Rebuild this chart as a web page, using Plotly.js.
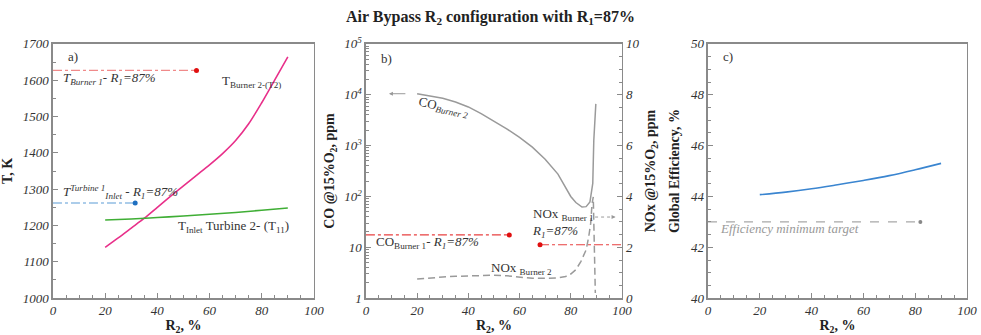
<!DOCTYPE html>
<html>
<head>
<meta charset="utf-8">
<script src="https://cdn.plot.ly/plotly-3.0.1.min.js"></script>
<style>html,body{margin:0;padding:0;background:#fff}#chart{width:981px;height:335px}</style>
</head>
<body>
<div id="chart"></div>
<script>
// ---- Panel a) temperatures ----
const r2TBurner2 = [20,25,30,35,40,45,50,55,60,65,70,75,80,85,90];
const tBurner2   = [1140,1166,1193,1220,1250,1280,1309,1338,1367,1398,1434,1480,1538,1601,1664];
const r2TInlet2  = [20,30,40,50,60,70,80,90];
const tInlet2    = [1215,1218,1222,1226,1231,1236,1242,1248];
const tBurner1Ref = 1627, tBurner1RefEnd = 55;
const tInlet1Ref  = 1262, tInlet1RefEnd = 31.5;

// ---- Panel b) emissions ----
const r2CO   = [20,25,30,35,40,45,50,55,60,65,70,75,80,82,84.4,86,87.5,88.6,89,89.4,89.8];
const coBurner2 = [10500,9500,8500,7200,5750,4270,3020,2140,1450,930,540,275,100,76,62,63,78,180,1260,3200,6600];
const r2NOx  = [20,25,30,35,40,45,50,55,60,65,70,75,78,80,82,84,86,87,87.8,88.3,88.8,89,89.2,89.4,89.6];
const noxBurner2 = [0.75,0.8,0.83,0.86,0.88,0.9,0.9,0.88,0.83,0.78,0.78,0.8,0.85,0.95,1.12,1.45,1.9,2.4,2.95,3.7,3.98,3.0,2.0,1.0,0.2];
const coBurner1Ref = 17.5, coBurner1RefEnd = 56;
const noxBurner1Ref = 2.1, noxBurner1RefStart = 68;

// ---- Panel c) efficiency ----
const r2Eff = [20,30,40,50,60,70,80,90];
const globalEff = [44.07,44.17,44.3,44.46,44.63,44.82,45.05,45.3];
const effTarget = 43.0, effTargetEnd = 82;

// ---- tick labels ----
const xTicks = [0,20,40,60,80,100];
const tTicks = [1000,1100,1200,1300,1400,1500,1600,1700];
const coTicks = [1,10,100,1000,10000,100000];
const coTickText = ['1','10','10<sup>2</sup>','10<sup>3</sup>','10<sup>4</sup>','10<sup>5</sup>'];
const noxTicks = [0,2,4,6,8,10];
const effTicks = [40,42,44,46,48,50];

const SERIF = 'Liberation Serif';
const tickFont = {family:SERIF, size:13, color:'#333'};
const titleFont = {family:SERIF, size:14, color:'#222', weight:'bold'};
const annFont = {family:SERIF, size:13, color:'#333'};
const frame = '#8a8a8a';
const it = a => a.map(v => '<i>' + v + '</i>');

function xAx(domain, anchor){
  return {domain:domain, anchor:anchor, range:[0,100], tickmode:'array', tickvals:xTicks, ticktext:it(xTicks),
    ticks:'inside', ticklen:5, tickcolor:frame, showline:true, linecolor:frame, linewidth:1.5, mirror:true,
    showgrid:false, zeroline:false, tickfont:tickFont,
    minor:{ticks:'inside', ticklen:3, dtick:5, tickcolor:frame, showgrid:false},
    title:{text:'R<sub>2</sub>, %', font:titleFont, standoff:4}};
}
const yDom = [0.11, 0.869];

const traces = [
  // panel a
  {x:r2TBurner2, y:tBurner2, xaxis:'x', yaxis:'y', mode:'lines', line:{color:'#e8308a', width:1.6, shape:'spline', smoothing:0.8}},
  {x:r2TInlet2, y:tInlet2, xaxis:'x', yaxis:'y', mode:'lines', line:{color:'#3fae35', width:1.6, shape:'spline'}},
  {x:[0,tBurner1RefEnd], y:[tBurner1Ref,tBurner1Ref], xaxis:'x', yaxis:'y', mode:'lines', line:{color:'#f08a8a', width:1.2, dash:'dashdot'}},
  {x:[tBurner1RefEnd], y:[tBurner1Ref], xaxis:'x', yaxis:'y', mode:'markers', marker:{color:'#e01010', size:5}},
  {x:[0,tInlet1RefEnd], y:[tInlet1Ref,tInlet1Ref], xaxis:'x', yaxis:'y', mode:'lines', line:{color:'#5b9bd5', width:1.2, dash:'dashdot'}},
  {x:[tInlet1RefEnd], y:[tInlet1Ref], xaxis:'x', yaxis:'y', mode:'markers', marker:{color:'#1f6fc0', size:5}},
  // panel b
  {x:r2CO, y:coBurner2, xaxis:'x2', yaxis:'y2', mode:'lines', line:{color:'#9a9a9a', width:1.5}},
  {x:[0,coBurner1RefEnd], y:[coBurner1Ref,coBurner1Ref], xaxis:'x2', yaxis:'y2', mode:'lines', line:{color:'#e84040', width:1.2, dash:'dashdot'}},
  {x:[coBurner1RefEnd], y:[coBurner1Ref], xaxis:'x2', yaxis:'y2', mode:'markers', marker:{color:'#e01010', size:5}},
  {x:r2NOx, y:noxBurner2, xaxis:'x2', yaxis:'y3', mode:'lines', line:{color:'#9a9a9a', width:1.5, dash:'7px,4px'}},
  {x:[noxBurner1RefStart,100], y:[noxBurner1Ref,noxBurner1Ref], xaxis:'x2', yaxis:'y3', mode:'lines', line:{color:'#e84040', width:1.2, dash:'dashdot'}},
  {x:[noxBurner1RefStart], y:[noxBurner1Ref], xaxis:'x2', yaxis:'y3', mode:'markers', marker:{color:'#e01010', size:5}},
  {x:[89.5,96.5], y:[3.19,3.19], xaxis:'x2', yaxis:'y3', mode:'lines', line:{color:'#9a9a9a', width:1, dash:'dot'}},
  // panel c
  {x:r2Eff, y:globalEff, xaxis:'x3', yaxis:'y4', mode:'lines', line:{color:'#3a85d0', width:1.6, shape:'spline'}},
  {x:[0,effTargetEnd], y:[effTarget,effTarget], xaxis:'x3', yaxis:'y4', mode:'lines', line:{color:'#a8a8a8', width:1.2, dash:'dash'}},
  {x:[effTargetEnd], y:[effTarget], xaxis:'x3', yaxis:'y4', mode:'markers', marker:{color:'#888', size:4}}
];

const logMinor = [];
for (let d=0; d<5; d++) for (let k=2; k<10; k++) logMinor.push(k*Math.pow(10,d));

const layout = {
  width:981, height:335, showlegend:false, paper_bgcolor:'#fff', plot_bgcolor:'#fff',
  margin:{l:0,r:0,t:0,b:0},
  title:{text:'Air Bypass R<sub>2</sub> configuration with R<sub>1</sub>=87%', font:{family:SERIF, size:16, color:'#222', weight:'bold'}, x:0.5, xanchor:'center', y:0.952, yanchor:'middle'},
  xaxis: xAx([0.054,0.320],'y'),
  xaxis2: xAx([0.373,0.634],'y2'),
  xaxis3: xAx([0.7217,0.9857],'y4'),
  yaxis:{domain:yDom, anchor:'x', range:[1000,1700], tickmode:'array', tickvals:tTicks, ticktext:it(tTicks),
    ticks:'inside', ticklen:5, tickcolor:frame,
    showline:true, linecolor:frame, linewidth:1.5, mirror:true, showgrid:false, zeroline:false, tickfont:tickFont,
    minor:{ticks:'inside', ticklen:3, dtick:50, tickcolor:frame, showgrid:false},
    title:{text:'T, K', font:titleFont, standoff:8}},
  yaxis2:{domain:yDom, anchor:'x2', type:'log', range:[0,5], tickmode:'array',
    tickvals:coTicks, ticktext:it(coTickText),
    ticks:'inside', ticklen:5, tickcolor:frame, showline:true, linecolor:frame, linewidth:1.5, mirror:false,
    showgrid:false, zeroline:false, tickfont:tickFont,
    minor:{ticks:'inside', ticklen:3, tickmode:'array', tickvals:logMinor, tickcolor:frame, showgrid:false},
    title:{text:'CO @15%O<sub>2</sub>, ppm', font:titleFont, standoff:6}},
  yaxis3:{domain:yDom, anchor:'x2', overlaying:'y2', side:'right', range:[0,10], tickmode:'array', tickvals:noxTicks, ticktext:it(noxTicks),
    ticks:'inside', ticklen:5, tickcolor:frame, showline:true, linecolor:frame, linewidth:1.5,
    showgrid:false, zeroline:false, tickfont:tickFont,
    minor:{ticks:'inside', ticklen:3, dtick:0.5, tickcolor:frame, showgrid:false},
    title:{text:'NOx @15%O<sub>2</sub>, ppm', font:titleFont, standoff:6}},
  yaxis4:{domain:yDom, anchor:'x3', range:[40,50], tickmode:'array', tickvals:effTicks, ticktext:it(effTicks),
    ticks:'inside', ticklen:5, tickcolor:frame,
    showline:true, linecolor:frame, linewidth:1.5, mirror:true, showgrid:false, zeroline:false, tickfont:tickFont,
    minor:{ticks:'inside', ticklen:3, dtick:0.5, tickcolor:frame, showgrid:false},
    title:{text:'Global Efficiency, %', font:titleFont, standoff:8}},
  annotations:[
    {xref:'x', yref:'y', x:5, y:1665, text:'a)', showarrow:false, xanchor:'left', font:annFont},
    {xref:'x', yref:'y', x:3, y:1604, text:'<i>T<sub>Burner 1</sub>- R<sub>1</sub>=87%</i>', showarrow:false, xanchor:'left', font:annFont},
    {xref:'x', yref:'y', x:64, y:1597, text:'T<sub>Burner 2-(T2)</sub>', showarrow:false, xanchor:'left', font:annFont},
    {xref:'x', yref:'y', x:3, y:1293, text:'<i>T<sup>Turbine 1</sup><sub>Inlet</sub></i> - <i>R<sub>1</sub>=87%</i>', showarrow:false, xanchor:'left', font:annFont},
    {xref:'x', yref:'y', x:47, y:1196, text:'T<sub>Inlet</sub> Turbine 2- (T<sub>11</sub>)', showarrow:false, xanchor:'left', font:annFont},

    {xref:'x2', yref:'y2', x:5, y:4.72, text:'b)', showarrow:false, xanchor:'left', font:annFont},
    {xref:'x2', yref:'y2', x:19, y:3.74, text:'CO<sub><i>Burner 2</i></sub>', showarrow:false, xanchor:'left', textangle:12, font:annFont},
    {xref:'x2', yref:'y2', x:9, y:4.02, ax:16, ay:4.02, axref:'x2', ayref:'y2', text:'', showarrow:true, arrowhead:2, arrowsize:0.8, arrowwidth:1, arrowcolor:'#999'},
    {xref:'x2', yref:'y2', x:3, y:1.1, text:'CO<sub>Burner 1</sub>- <i>R<sub>1</sub>=87%</i>', showarrow:false, xanchor:'left', font:annFont},
    {xref:'x2', yref:'y3', x:64, y:2.95, text:'NOx <sub>Burner 1</sub><br><i>R<sub>1</sub>=87%</i>', showarrow:false, xanchor:'left', align:'left', font:annFont},
    {xref:'x2', yref:'y3', x:48, y:1.15, text:'NOx <sub>Burner 2</sub>', showarrow:false, xanchor:'left', font:annFont},
    {xref:'x2', yref:'y3', x:97.5, y:3.19, ax:95.5, ay:3.19, axref:'x2', ayref:'y3', text:'', showarrow:true, arrowhead:2, arrowsize:0.8, arrowwidth:1, arrowcolor:'#999'},

    {xref:'x3', yref:'y4', x:5, y:49.5, text:'c)', showarrow:false, xanchor:'left', font:annFont},
    {xref:'x3', yref:'y4', x:4, y:42.75, text:'<i>Efficiency minimum target</i>', showarrow:false, xanchor:'left', font:{family:SERIF, size:13, color:'#999'}}
  ]
};
Plotly.newPlot('chart', traces, layout, {staticPlot:true, displayModeBar:false});
</script>
</body>
</html>
